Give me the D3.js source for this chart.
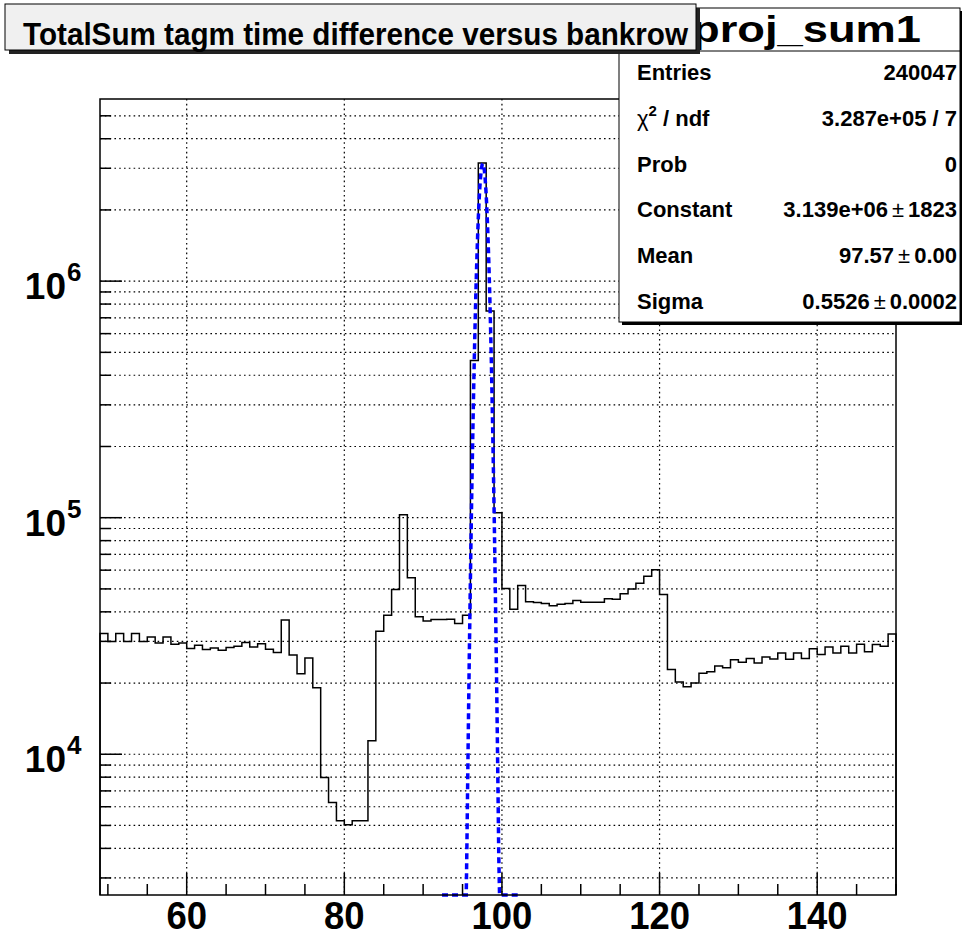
<!DOCTYPE html>
<html>
<head>
<meta charset="utf-8">
<script src="https://cdn.jsdelivr.net/npm/d3@7"></script>
<style>
  body { margin: 0; background: #fff; }
  text { font-family: "Liberation Sans", Arial, sans-serif; font-weight: bold; }
</style>
</head>
<body>
<div id="chart"></div>
<script>
// histogram: bins of width 1 starting at 49
const binStart = 49;
const counts = [
  32400, 30000, 32400, 30000, 32400, 30000, 31300, 29500, 31300, 29200, // 49-58
  29500, 28000, 28900, 27700, 28100, 27500, 28300, 28600, 29700, 28400, // 59-68
  29300, 27800, 26900, 36900, 26300, 21900, 25500, 19100, 7980, 6250,   // 69-78
  5230, 5030, 5230, 5230, 11400, 33100, 38700, 49700, 103000, 55700,    // 79-88
  38100, 36600, 37100, 37100, 37200, 35700, 38700, 462000, 3155000, 748000, // 89-98
  105000, 50200, 41000, 51700, 44100, 43800, 43400, 42400, 43100, 43400, // 99-108
  44700, 43900, 43900, 43900, 45400, 45200, 47700, 50000, 52800, 56600, // 109-118
  60200, 47400, 22800, 20200, 19300, 20000, 22000, 22300, 23600, 23200, // 119-128
  25100, 24500, 25400, 24300, 25800, 25300, 26800, 25200, 26800, 25400, // 129-138
  27900, 26400, 28400, 26800, 28600, 26800, 29200, 27100, 29100, 28600, // 139-148
  32200                                                                  // 149
];

// gaussian fit: constant, mean, sigma, range
const fitParams = [3.139e6, 97.57, 0.5526];
const fitRange = [92.4, 102];

const xTicks = [60, 80, 100, 120, 140];
const yDecades = [1e4, 1e5, 1e6];

const statLabels = ["Entries", "χ2 / ndf", "Prob", "Constant", "Mean", "Sigma"];
const statValues = ["240047", "3.287e+05 / 7", "0", "3.139e+06 ± 1823", "97.57 ± 0.00", "0.5526 ± 0.0002"];

const W = 962, H = 938;
const frame = { left: 100, right: 896, top: 99, bottom: 895 };

const svg = d3.select("#chart").append("svg")
  .attr("width", W).attr("height", H);
svg.append("rect").attr("width", W).attr("height", H).attr("fill", "#fff");

const x = d3.scaleLinear().domain([49, 150]).range([frame.left, frame.right]);
const y = d3.scaleLog().domain([2541, 5.888e6]).range([frame.bottom, frame.top]);

// bold text, optionally squeezed horizontally
function label(g, tx, ty, str, size, anchor, sx) {
  return g.append("text")
    .attr("transform", `translate(${tx},${ty}) scale(${sx || 1},1)`)
    .attr("font-size", size)
    .attr("text-anchor", anchor || "start")
    .text(str);
}

// grid
const yGrid = [];
for (let e = 3; e <= 6; e++) for (let m = 1; m <= 9; m++) {
  const v = m * Math.pow(10, e);
  if (v > y.domain()[0] && v < y.domain()[1]) yGrid.push(v);
}
const grid = svg.append("g").attr("stroke", "#000").attr("stroke-width", 1.2)
  .attr("stroke-dasharray", "1.6,3.2");
grid.selectAll(".gy").data(yGrid).enter().append("line")
  .attr("x1", frame.left).attr("x2", frame.right)
  .attr("y1", d => y(d)).attr("y2", d => y(d));
grid.selectAll(".gx").data(xTicks).enter().append("line")
  .attr("y1", frame.top).attr("y2", frame.bottom)
  .attr("x1", d => x(d)).attr("x2", d => x(d));

// histogram
const line = d3.line();
const pts = [[x(binStart), y.range()[0]]];
counts.forEach((c, i) => {
  pts.push([x(binStart + i), y(c)]);
  pts.push([x(binStart + i + 1), y(c)]);
});
pts.push([x(binStart + counts.length), y.range()[0]]);
svg.append("path").attr("d", line(pts))
  .attr("fill", "none").attr("stroke", "#000").attr("stroke-width", 1.5);

// fit curve, clamped to the frame bottom
const [A, mu, sg] = fitParams;
const fitPts = d3.range(101).map(i => {
  const xv = fitRange[0] + (fitRange[1] - fitRange[0]) * i / 100;
  const v = A * Math.exp(-0.5 * Math.pow((xv - mu) / sg, 2));
  return [x(xv), y(Math.max(v, y.domain()[0]))];
});
svg.append("path").attr("d", line(fitPts))
  .attr("fill", "none").attr("stroke", "#0000ff").attr("stroke-width", 3.5)
  .attr("stroke-dasharray", "6,4");

// frame
svg.append("rect")
  .attr("x", frame.left).attr("y", frame.top)
  .attr("width", frame.right - frame.left).attr("height", frame.bottom - frame.top)
  .attr("fill", "none").attr("stroke", "#000").attr("stroke-width", 1.5);

// x ticks
const ax = svg.append("g").attr("stroke", "#000").attr("stroke-width", 1.5);
d3.range(50, 151, 5).forEach(v => {
  const big = v % 20 === 0;
  ax.append("line").attr("x1", x(v)).attr("x2", x(v))
    .attr("y1", frame.bottom).attr("y2", frame.bottom - (big ? 22 : 11));
});
// y ticks
yGrid.forEach(v => {
  const big = yDecades.includes(v);
  ax.append("line").attr("y1", y(v)).attr("y2", y(v))
    .attr("x1", frame.left).attr("x2", frame.left + (big ? 22 : 11));
});

// x tick labels
xTicks.forEach(v => label(svg, x(v), 929, v, 38, "middle", 0.96));
// y tick labels
yDecades.forEach(v => {
  const e = Math.round(Math.log10(v));
  label(svg, 66, y(v) + 18, "10", 37, "end");
  label(svg, 67, y(v), e, 26, "start");
});

// stats box
const sb = { x: 619, y: 8, w: 341, h: 314 };
svg.append("rect").attr("x", sb.x + 3).attr("y", sb.y + 3).attr("width", sb.w).attr("height", sb.h).attr("fill", "#000");
svg.append("rect").attr("x", sb.x).attr("y", sb.y).attr("width", sb.w).attr("height", sb.h)
  .attr("fill", "#fff").attr("stroke", "#000").attr("stroke-width", 1);
svg.append("line").attr("x1", sb.x).attr("x2", sb.x + sb.w).attr("y1", 51).attr("y2", 51)
  .attr("stroke", "#000").attr("stroke-width", 1);
svg.append("text").attr("x", 692).attr("y", 42).attr("font-size", 36)
  .attr("textLength", 229).attr("lengthAdjust", "spacingAndGlyphs").text("proj_sum1");

statLabels.forEach((s, i) => {
  const ty = 80 + i * 45.8;
  const t = svg.append("text").attr("x", 637).attr("y", ty).attr("font-size", 22);
  if (s.startsWith("χ")) {
    t.append("tspan").attr("font-weight", "normal").text("χ");
    t.append("tspan").attr("font-size", 15).attr("dy", -10).text("2");
    t.append("tspan").attr("dy", 10).text(" / ndf");
  } else t.text(s);
  const v = statValues[i];
  const tv = svg.append("text").attr("x", 957).attr("y", ty).attr("font-size", 22).attr("text-anchor", "end");
  if (v.includes("±")) {
    const [a, b] = v.split(" ± ");
    tv.append("tspan").text(a);
    tv.append("tspan").attr("font-weight", "normal").attr("dx", 4).text("±");
    tv.append("tspan").attr("dx", 4).text(b);
  } else tv.text(v);
});

// title box
svg.append("rect").attr("x", 9).attr("y", 8).attr("width", 691).attr("height", 46).attr("fill", "#222");
svg.append("rect").attr("x", 5).attr("y", 4).attr("width", 691).attr("height", 46)
  .attr("fill", "#f0f0f0").attr("stroke", "#000").attr("stroke-width", 1);
svg.append("text").attr("x", 23).attr("y", 45).attr("font-size", 32)
  .attr("textLength", 665).attr("lengthAdjust", "spacingAndGlyphs")
  .text("TotalSum tagm time difference versus bankrow");
</script>
</body>
</html>
